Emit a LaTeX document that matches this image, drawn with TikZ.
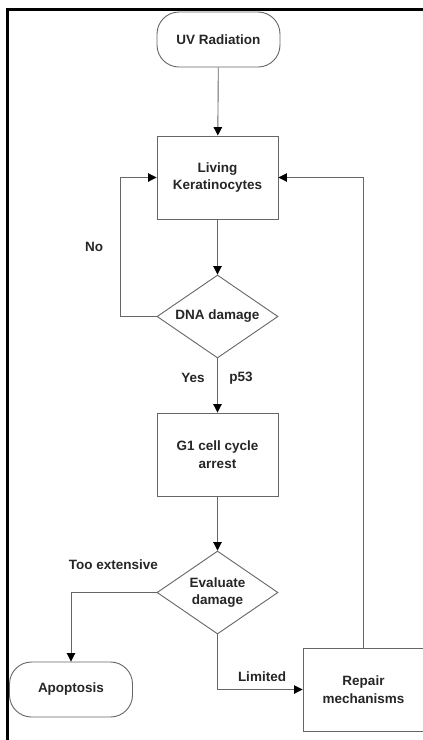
\documentclass[tikz,border=0pt]{standalone}
\usepackage{fontspec}
\setmainfont{Liberation Sans}
\usetikzlibrary{shapes.geometric,arrows.meta}
\begin{document}
\begin{tikzpicture}[x=1pt,y=-1pt,
  font=\bfseries\fontsize{13.5}{17.5}\selectfont,
  every node/.style={text=black!85},
  boxnode/.style={draw=black!60, line width=0.9pt, minimum width=121pt, minimum height=83pt, inner sep=0pt, align=center},
  pill/.style={draw=black!60, line width=0.9pt, rounded corners=22pt, minimum width=123pt, minimum height=55pt, inner sep=0pt, align=center},
  decision/.style={draw=black!60, line width=0.9pt, shape=diamond, aspect=1.458, minimum width=121pt, minimum height=83pt, inner sep=0pt, align=center},
  conn/.style={draw=black!60, line width=0.9pt, -{Triangle[length=8.5pt,width=8.5pt,color=black]}},
  lbl/.style={inner sep=0pt}
]
\useasboundingbox (0,0) rectangle (423,740);
\fill[white] (0,0) rectangle (423,740);
\draw[line width=3pt] (7.5,740) -- (7.5,9.5) -- (423,9.5);

\node[pill] (uv) at (218.5,39.5) {UV Radiation};
\node[boxnode] (liv) at (217.5,177.5) {Living\\Keratinocytes};
\node[decision] (dna) at (217.5,316.5) {DNA damage};
\node[boxnode] (g1) at (217.5,454.5) {G1 cell cycle\\arrest};
\node[decision] (eval) at (217.5,592.5) {Evaluate\\damage};
\node[pill] (apop) at (71,689.5) {Apoptosis};
\node[boxnode] (rep) at (363.5,689.5) {Repair\\mechanisms};

\draw[conn] (uv) -- (liv);
\draw[conn] (liv) -- (dna);
\draw[conn] (dna) -- (g1);
\draw[conn] (g1) -- (eval);
\draw[conn] (dna.west) -- (120,316.5) |- (liv.west);
\draw[conn] (rep.north) |- (liv.east);
\draw[conn] (eval.west) -| (apop.north);
\draw[conn] (eval.south) |- (rep.west);

\node[lbl] (no) at (94,247) {No};
\node[lbl] (yes) at (193,378) {Yes};
\node[lbl] (p53) at (241,378) {p53};
\node[lbl] (too) at (113.5,565) {Too extensive};
\node[lbl] (lim) at (262,677) {Limited};
\end{tikzpicture}
\end{document}
